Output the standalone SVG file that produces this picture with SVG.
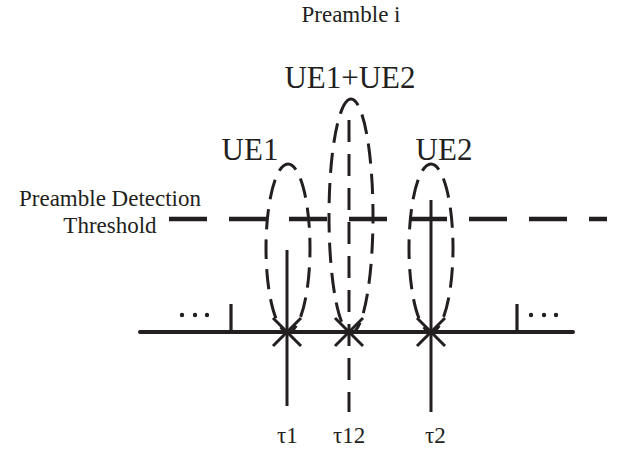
<svg xmlns="http://www.w3.org/2000/svg" width="618" height="451" viewBox="0 0 618 451">
<style>
text{font-family:"Liberation Serif","Times New Roman",serif;fill:#231f20}
.m{font-size:23px}
.b{font-size:31px}
.ax{stroke:#231f20;stroke-width:4;stroke-linecap:round;fill:none}
.tk{stroke:#231f20;stroke-width:3.2;fill:none}
.th{stroke:#231f20;stroke-width:4.5;stroke-dasharray:38 22;fill:none}
.el{stroke:#231f20;stroke-width:3;stroke-dasharray:20 10;stroke-dashoffset:10;fill:none}
.vl{stroke:#231f20;stroke-width:3;fill:none}
.vd{stroke:#231f20;stroke-width:3;stroke-dasharray:22 12;fill:none}
.x{stroke:#231f20;stroke-width:3;fill:none}
.dot{fill:#231f20}
</style>
<rect width="618" height="451" fill="#fff"/>
<g id="title"><text class="m" x="351" y="22" text-anchor="middle">Preamble i</text></g>
<g id="threshold">
<text class="m" x="110" y="206" text-anchor="middle">Preamble Detection</text>
<text class="m" x="110" y="233" text-anchor="middle">Threshold</text>
<line class="th" x1="169" y1="219" x2="607" y2="219"/>
</g>
<g id="axis">
<line class="ax" x1="140" y1="332" x2="573" y2="332"/>
<line class="tk" x1="231" y1="304" x2="231" y2="332"/>
<line class="tk" x1="517" y1="304" x2="517" y2="332"/>
<circle class="dot" cx="182" cy="315" r="2.2"/><circle class="dot" cx="195" cy="315" r="2.2"/><circle class="dot" cx="207" cy="315" r="2.2"/>
<circle class="dot" cx="531" cy="315" r="2.2"/><circle class="dot" cx="544" cy="315" r="2.2"/><circle class="dot" cx="556" cy="315" r="2.2"/>
</g>
<g id="ue1">
<path class="el" d="M288 164A22 84 0 1 1 288 332A22 84 0 1 1 288 164"/>
<text class="b" x="250" y="160" text-anchor="middle">UE1</text>
</g>
<g id="ue12">
<path class="el" d="M351 99A22 117 0 1 1 351 333A22 117 0 1 1 351 99"/>
<text class="b" x="350" y="88" text-anchor="middle">UE1+UE2</text>
</g>
<g id="ue2">
<path class="el" d="M431 164A22 84 0 1 1 431 332A22 84 0 1 1 431 164"/>
<text class="b" x="444" y="160" text-anchor="middle">UE2</text>
</g>
<g id="connectors">
<line class="vl" x1="287" y1="250" x2="287" y2="406"/>
<line class="vd" x1="349" y1="120" x2="349" y2="412"/>
<line class="vl" x1="431" y1="200" x2="431" y2="412"/>
<path class="x" d="M273 318L301 346M301 318L273 346"/>
<path class="x" d="M335 318L363 346M363 318L335 346"/>
<path class="x" d="M417 318L445 346M445 318L417 346"/>
</g>
<g id="taus">
<text class="m" x="277" y="443">τ1</text>
<text class="m" x="333" y="443">τ12</text>
<text class="m" x="425" y="443">τ2</text>
</g>
</svg>
